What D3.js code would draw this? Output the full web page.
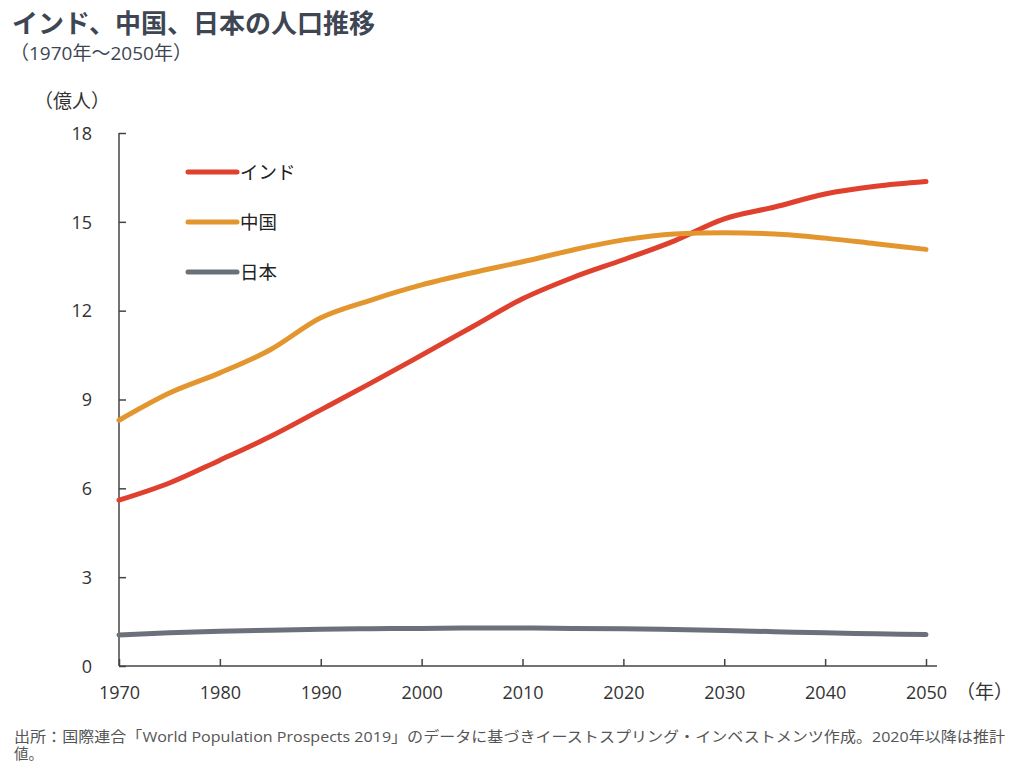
<!DOCTYPE html>
<html>
<head>
  <meta charset="utf-8">
  <title>インド、中国、日本の人口推移</title>
  <style>
    body { margin: 0; background: #fff; }
    text { font-family: "Open Sans", "Noto Sans CJK JP", sans-serif; }
    .axis text { font-size: 18px; fill: #333; }
    .axis path, .axis line { stroke: #444; stroke-width: 1.5; }
  </style>
</head>
<body>
  <svg id="chart"></svg>

  <script src="https://d3js.org/d3.v7.min.js"></script>
  <script>
    // values (億人)
    const years = [1970, 1975, 1980, 1985, 1990, 1995, 2000, 2005, 2010, 2015, 2020, 2025, 2030, 2035, 2040, 2045, 2050];
    const india = [5.6, 6.18, 6.95, 7.75, 8.65, 9.56, 10.5, 11.45, 12.4, 13.12, 13.72, 14.35, 15.1, 15.5, 15.94, 16.2, 16.36];
    const china = [8.3, 9.22, 9.9, 10.68, 11.76, 12.36, 12.87, 13.28, 13.65, 14.05, 14.39, 14.59, 14.63, 14.59, 14.45, 14.26, 14.07];
    const japan = [1.05, 1.12, 1.17, 1.21, 1.24, 1.26, 1.27, 1.28, 1.28, 1.27, 1.26, 1.23, 1.2, 1.16, 1.12, 1.09, 1.06];
    const seriesNames = ['インド', '中国', '日本'];
    const seriesColors = ['#e0412f', '#e3962e', '#6b717a'];
    const yTicks = [0, 3, 6, 9, 12, 15, 18];
    const xTicks = [1970, 1980, 1990, 2000, 2010, 2020, 2030, 2040, 2050];

    const width = 1024, height = 778;
    const svg = d3.select('#chart').attr('width', width).attr('height', height);

    const x = d3.scaleLinear().domain([1970, 2050]).range([119, 926]);
    const y = d3.scaleLinear().domain([0, 18]).range([666, 133]);

    // title
    svg.append('text').attr('x', 12).attr('y', 33)
      .attr('font-size', 26).attr('font-weight', 'bold').attr('fill', '#3d4652')
      .attr('font-family', '"Noto Sans CJK JP", sans-serif')
      .text('インド、中国、日本の人口推移');
    svg.append('text').attr('x', 10).attr('y', 60)
      .attr('font-size', 19).attr('fill', '#3d4652')
      .text('（1970年～2050年）');

    // axes
    const yAxis = svg.append('g').attr('class', 'axis')
      .attr('transform', `translate(${x(1970)},0)`)
      .call(d3.axisRight(y).tickValues(yTicks).tickSize(7).tickSizeOuter(0).tickFormat(''));
    yAxis.select('.domain').attr('d', `M0,${y(18)}V${y(0)}`);
    yAxis.selectAll('.tick').append('text')
      .attr('x', -27).attr('dy', '0.35em').attr('text-anchor', 'end')
      .text(d => d);

    const xAxis = svg.append('g').attr('class', 'axis')
      .attr('transform', `translate(0,${y(0)})`)
      .call(d3.axisTop(x).tickValues(xTicks).tickSize(7).tickSizeOuter(0).tickFormat(''));
    xAxis.select('.domain').attr('d', `M${x(1970)},0H${x(2050) + 11}`);
    xAxis.selectAll('.tick').append('text')
      .attr('y', 33).attr('text-anchor', 'middle')
      .text(d => d);

    svg.append('text').attr('x', 34).attr('y', 108)
      .attr('font-size', 19).attr('fill', '#333').text('（億人）');
    svg.append('text').attr('x', 956).attr('y', 699)
      .attr('font-size', 19).attr('fill', '#333').text('（年）');

    // lines
    const series = [india, china, japan];
    const line = d3.line()
      .x((d, i) => x(years[i]))
      .y(d => y(d))
      .curve(d3.curveMonotoneX);
    svg.selectAll('.series')
      .data(series)
      .enter()
      .append('path')
      .attr('class', 'series')
      .attr('fill', 'none')
      .attr('stroke', (d, i) => seriesColors[i])
      .attr('stroke-width', 5)
      .attr('stroke-linecap', 'round')
      .attr('stroke-linejoin', 'round')
      .attr('d', line);

    // legend
    const legend = svg.selectAll('.legend')
      .data(seriesNames)
      .enter()
      .append('g')
      .attr('class', 'legend')
      .attr('transform', (d, i) => `translate(188,${172 + i * 50})`);
    legend.append('line')
      .attr('x1', 0).attr('x2', 49)
      .attr('stroke', (d, i) => seriesColors[i])
      .attr('stroke-width', 5).attr('stroke-linecap', 'round');
    legend.append('text')
      .attr('x', 52).attr('dy', '0.36em')
      .attr('font-size', 18.5).attr('fill', '#222')
      .text(d => d);

    // source note
    svg.append('text').attr('x', 14).attr('y', 742)
      .attr('font-size', 14.5).attr('fill', '#555')
      .attr('textLength', 991).attr('lengthAdjust', 'spacingAndGlyphs')
      .text('出所：国際連合「World Population Prospects 2019」のデータに基づきイーストスプリング・インベストメンツ作成。2020年以降は推計');
    svg.append('text').attr('x', 14).attr('y', 759)
      .attr('font-size', 14.5).attr('fill', '#555')
      .text('値。');
  </script>
</body>
</html>
